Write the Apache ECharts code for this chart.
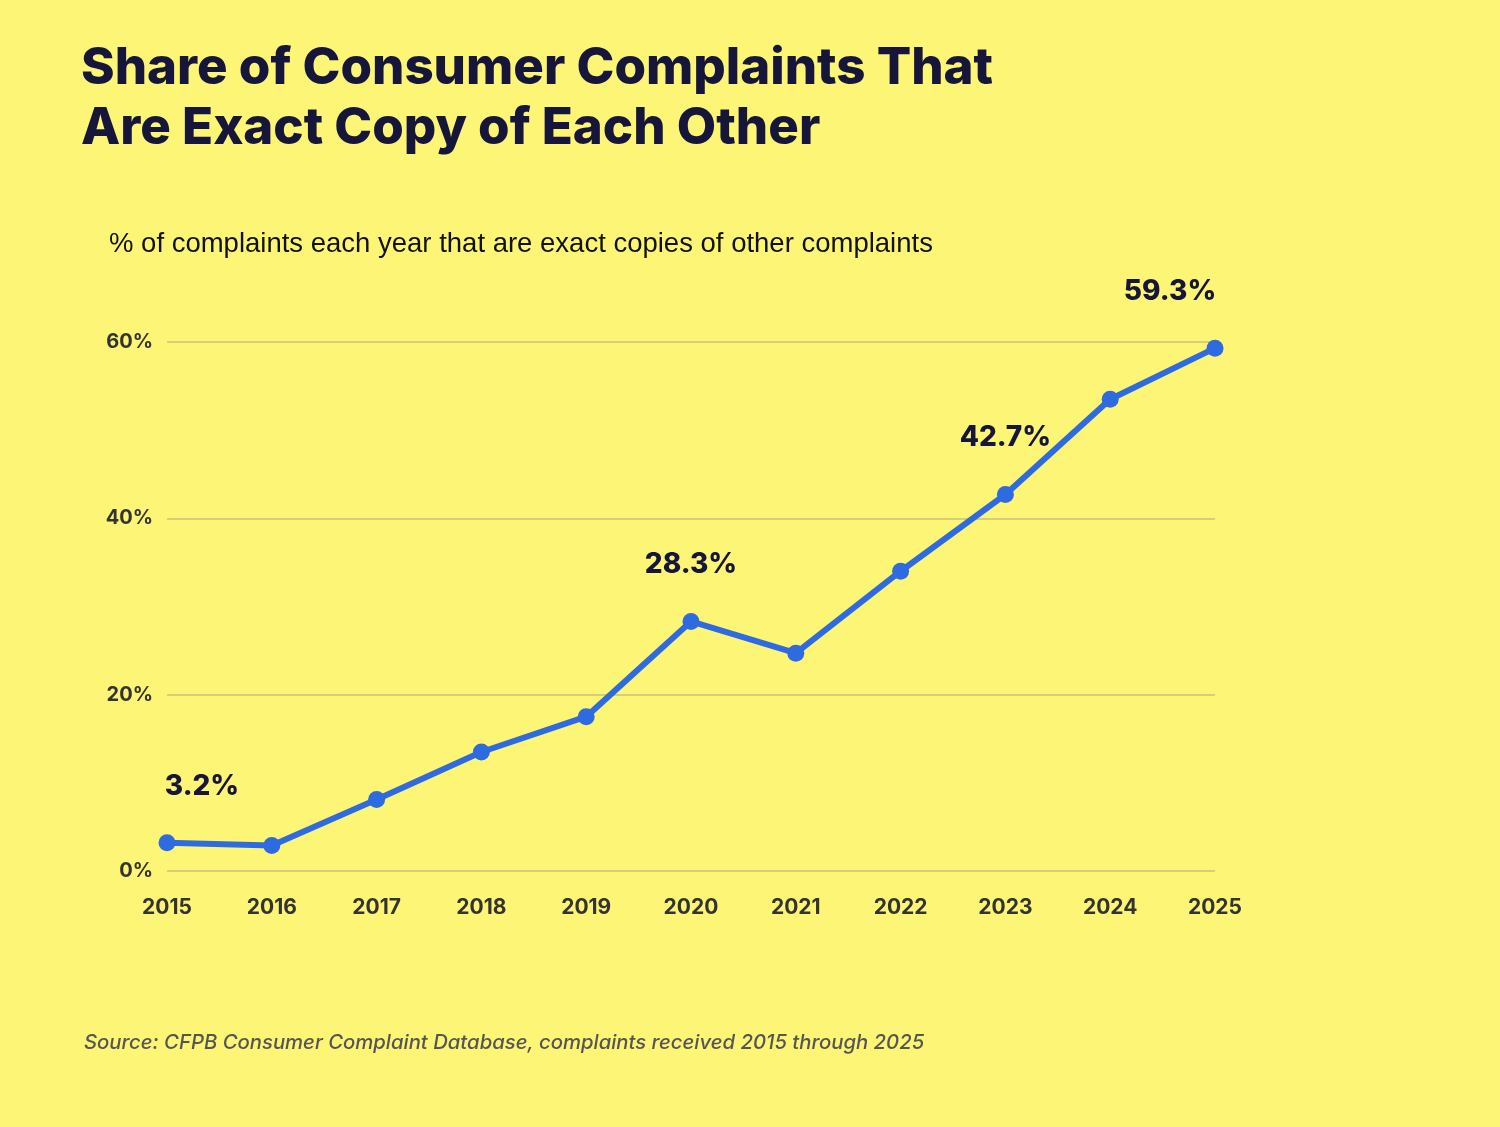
<!DOCTYPE html>
<html>
<head>
<meta charset="utf-8">
<script src="https://cdn.jsdelivr.net/npm/echarts@6/dist/echarts.min.js"></script>
<style>
  html, body { margin: 0; padding: 0; background: #fdf575; }
  #chart { width: 1500px; height: 1127px; }
</style>
</head>
<body>
<div id="chart"></div>
<script>
  // 数据
  const years = ['2015', '2016', '2017', '2018', '2019', '2020', '2021', '2022', '2023', '2024', '2025']
  const shares = [3.2, 2.9, 8.1, 13.5, 17.5, 28.3, 24.7, 34.0, 42.7, 53.5, 59.3]
  const labelled = ['2015', '2020', '2023', '2025']
  // 标签水平偏移（首尾标签向内移）
  const labelShift = { '2015': 35, '2025': -45 }

  const chart = echarts.init(document.getElementById('chart'))
  const font = 'Inter, "Noto Sans", sans-serif'

  const seriesData = shares.map((v, i) => ({
    value: v,
    label: { offset: [labelShift[years[i]] || 0, 0] }
  }))

  const option = {
    backgroundColor: '#fdf575',
    title: [
      {
        text: 'Share of Consumer Complaints That\nAre Exact Copy of Each Other',
        left: 76, top: 34,
        textStyle: { fontFamily: font, fontWeight: 800, fontSize: 51, lineHeight: 60, color: '#16163a' }
      },
      {
        text: '% of complaints each year that are exact copies of other complaints',
        left: 104, top: 225,
        textStyle: { fontFamily: 'Liberation Sans, Arial, sans-serif', fontWeight: 'normal', fontSize: 27.5, color: '#111' }
      },
      {
        text: 'Source: CFPB Consumer Complaint Database, complaints received 2015 through 2025',
        left: 79, top: 1028,
        textStyle: { fontFamily: font, fontStyle: 'italic', fontWeight: 500, fontSize: 20.3, color: '#555' }
      }
    ],
    grid: { left: 167, right: 285, top: 342, bottom: 256 },
    xAxis: {
      type: 'category',
      data: years,
      boundaryGap: false,
      axisLine: { show: false },
      axisTick: { show: false },
      axisLabel: { margin: 26, fontFamily: font, fontWeight: 700, fontSize: 21, color: '#333' }
    },
    yAxis: {
      type: 'value',
      min: 0, max: 60, interval: 20,
      axisLabel: { formatter: '{value}%', margin: 14, fontFamily: font, fontWeight: 700, fontSize: 20, color: '#333' },
      splitLine: { lineStyle: { color: '#c8c07a', width: 1.5 } }
    },
    series: [
      {
        type: 'line',
        data: seriesData,
        symbol: 'circle',
        symbolSize: 17,
        lineStyle: { color: '#2f6be0', width: 6 },
        itemStyle: { color: '#2f6be0' },
        label: {
          show: true,
          position: 'top',
          distance: 34,
          fontFamily: font,
          fontWeight: 800,
          fontSize: 28,
          color: '#16163a',
          formatter: (p) => labelled.includes(p.name) ? p.value.toFixed(1) + '%' : ''
        }
      }
    ]
  }
  chart.setOption(option)
</script>
</body>
</html>
